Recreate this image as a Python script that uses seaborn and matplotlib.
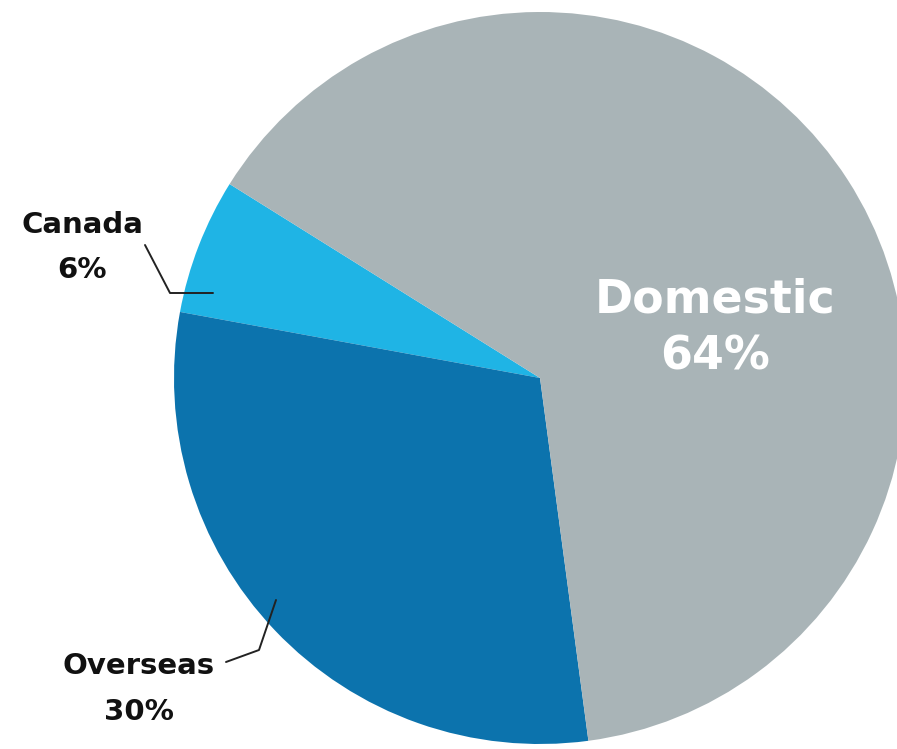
import matplotlib
matplotlib.use("Agg")
import matplotlib.pyplot as plt
import seaborn as sns

# Revenue share by market
categories = ["Canada", "Overseas", "Domestic"]
shares = [6, 30, 64]
colors = ["#1FB4E5", "#0C73AD", "#A9B4B7"]

sns.set_theme(style="white")
plt.rcParams["font.family"] = ["DejaVu Sans"]

W, H = 897, 749
fig = plt.figure(figsize=(W / 100, H / 100), dpi=100)
ax = fig.add_axes([0, 0, 1, 1])

cx, cy, r = 540, H - 378, 366
ax.pie(shares, colors=colors, startangle=148, counterclock=True,
       center=(cx, cy), radius=r, frame=True,
       wedgeprops=dict(linewidth=0))
ax.set_xlim(0, W)
ax.set_ylim(0, H)
ax.set_aspect("equal")
ax.axis("off")

# Inside label for the largest slice
ax.text(715, H - 300, categories[2], color="white", fontsize=33, fontweight="bold",
        ha="center", va="center")
ax.text(715, H - 357, f"{shares[2]}%", color="white", fontsize=33, fontweight="bold",
        ha="center", va="center")

# Outside labels with leader lines
lab_kw = dict(color="#111111", fontsize=21, fontweight="bold", ha="center", va="center")
ax.text(82, H - 225, categories[0], **lab_kw)
ax.text(82, H - 270, f"{shares[0]}%", **lab_kw)
ax.plot([145, 170, 213], [H - 245, H - 293, H - 293], color="#222222", lw=1.4)

ax.text(139, H - 666, categories[1], **lab_kw)
ax.text(139, H - 712, f"{shares[1]}%", **lab_kw)
ax.plot([226, 259, 276], [H - 662, H - 650, H - 600], color="#222222", lw=1.4)

fig.savefig("out.png", dpi=100, facecolor="white")
